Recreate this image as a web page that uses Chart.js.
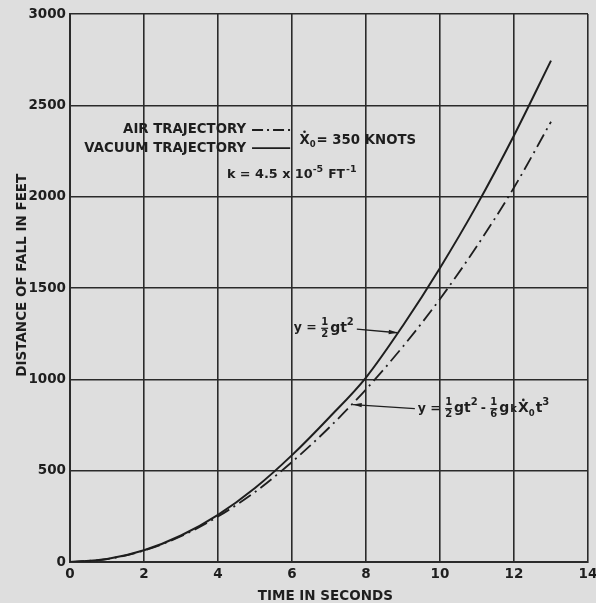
<html lang="en">
<head>
  <meta charset="UTF-8">
  <title>Distance of fall</title>
  <script src="https://cdn.jsdelivr.net/npm/chart.js"></script>
  <style>
    html, body { margin: 0; padding: 0; background: #dedede; }
    #wrap { width: 596px; height: 603px; }
  </style>
</head>
<body>
  <div id="wrap"><canvas id="viz" width="596" height="603"></canvas></div>
  <script>
    // time in seconds
    const times = [0, 1, 2, 3, 4, 5, 6, 7, 8, 9, 10, 11, 12, 13]
    // distance of fall, feet
    const vacuum = [0, 16, 64, 145, 258, 405, 585, 790, 1010, 1295, 1610, 1955, 2335, 2745]
    const air = [0, 16, 63, 141, 249, 383, 548, 735, 945, 1180, 1440, 1730, 2050, 2410]
    const xTicks = [0, 2, 4, 6, 8, 10, 12, 14]
    const yTicks = [0, 500, 1000, 1500, 2000, 2500, 3000]

    const ink = '#1e1e1e'
    const bold = (size) => 'bold ' + size + 'px "DejaVu Sans"'

    // draws "num over den" at x, returns new x
    const frac = (ctx, x, y, num, den, size) => {
      ctx.font = bold(size)
      const w = Math.max(ctx.measureText(num).width, ctx.measureText(den).width)
      ctx.textAlign = 'center'
      ctx.fillText(num, x + w / 2, y - size * 0.6)
      ctx.fillText(den, x + w / 2, y + size * 0.6)
      ctx.fillRect(x, y - 0.5, w, 1.2)
      ctx.textAlign = 'left'
      return x + w + 2
    }
    const txt = (ctx, x, y, s, size, dy) => {
      ctx.font = bold(size)
      ctx.fillText(s, x, y + (dy || 0))
      return x + ctx.measureText(s).width
    }
    const xdot = (ctx, x, y, size) => {
      ctx.font = bold(size)
      const w = ctx.measureText('X').width
      ctx.fillText('X', x, y)
      ctx.beginPath()
      ctx.arc(x + w / 2, y - size * 0.62, 1.3, 0, Math.PI * 2)
      ctx.fill()
      return x + w
    }
    const arrow = (ctx, x1, y1, x2, y2) => {
      ctx.beginPath()
      ctx.moveTo(x1, y1)
      ctx.lineTo(x2, y2)
      ctx.stroke()
      const a = Math.atan2(y2 - y1, x2 - x1)
      ctx.beginPath()
      ctx.moveTo(x2, y2)
      ctx.lineTo(x2 - 9 * Math.cos(a - 0.25), y2 - 9 * Math.sin(a - 0.25))
      ctx.lineTo(x2 - 9 * Math.cos(a + 0.25), y2 - 9 * Math.sin(a + 0.25))
      ctx.closePath()
      ctx.fill()
    }

    const notes = {
      id: 'notes',
      afterDraw (chart) {
        const { ctx } = chart
        const X = (v) => chart.scales.x.getPixelForValue(v)
        const Y = (v) => chart.scales.y.getPixelForValue(v)
        ctx.save()
        ctx.fillStyle = ink
        ctx.strokeStyle = ink
        ctx.textBaseline = 'middle'

        // axis titles
        ctx.textAlign = 'center'
        ctx.font = bold(13.5)
        ctx.fillText('TIME IN SECONDS', X(6.9), 596)
        ctx.save()
        ctx.translate(22, Y(1570))
        ctx.rotate(-Math.PI / 2)
        ctx.fillText('DISTANCE OF FALL IN FEET', 0, 0)
        ctx.restore()

        // legend block
        ctx.textAlign = 'right'
        ctx.font = bold(13.3)
        ctx.fillText('AIR TRAJECTORY', X(4.76), Y(2365))
        ctx.fillText('VACUUM TRAJECTORY', X(4.76), Y(2266))
        ctx.textAlign = 'left'
        ctx.lineWidth = 1.8
        ctx.setLineDash([11, 4, 2, 4])
        ctx.beginPath(); ctx.moveTo(X(4.92), Y(2365)); ctx.lineTo(X(5.95), Y(2365)); ctx.stroke()
        ctx.setLineDash([])
        ctx.beginPath(); ctx.moveTo(X(4.92), Y(2266)); ctx.lineTo(X(5.95), Y(2266)); ctx.stroke()

        let x = xdot(ctx, X(6.2), Y(2310), 13.3)
        ctx.font = bold(8.5); ctx.fillText('0', x, Y(2310) + 5); x += ctx.measureText('0').width + 1
        txt(ctx, x, Y(2310), '= 350 KNOTS', 13.3)

        x = txt(ctx, X(4.24), Y(2118), 'k = 4.5 x 10', 12.8)
        x = txt(ctx, x, Y(2118), '-5', 9.5, -6) + 5
        x = txt(ctx, x, Y(2118), 'FT', 12.3) + 1
        txt(ctx, x, Y(2118), '-1', 9.5, -6)

        // y = 1/2 g t^2
        const y1 = Y(1280)
        x = txt(ctx, X(6.05), y1, 'y = ', 12.5)
        x = frac(ctx, x, y1, '1', '2', 10)
        x = txt(ctx, x, y1, 'gt', 14)
        x = txt(ctx, x, y1, '2', 10, -6) + 3
        ctx.lineWidth = 1.3
        arrow(ctx, x, y1 + 1, X(8.85), Y(1255))

        // y = 1/2 g t^2 - 1/6 g k X0 t^3
        const y2 = Y(840)
        arrow(ctx, X(9.32), y2, X(7.65), Y(862))
        x = txt(ctx, X(9.4), y2, 'y = ', 12.5)
        x = frac(ctx, x, y2, '1', '2', 10)
        x = txt(ctx, x, y2, 'gt', 14)
        x = txt(ctx, x, y2, '2', 10, -6) + 3
        x = txt(ctx, x, y2, '- ', 12.5)
        x = frac(ctx, x, y2, '1', '6', 10)
        x = txt(ctx, x, y2, 'g', 14) + 1
        x = txt(ctx, x, y2, 'k', 10, 1) + 1
        x = xdot(ctx, x, y2, 14)
        x = txt(ctx, x, y2, '0', 8.5, 5) + 1
        x = txt(ctx, x, y2, 't', 14)
        txt(ctx, x, y2, '3', 10, -6)
        ctx.restore()
      }
    }

    new Chart(document.getElementById('viz'), {
      type: 'line',
      data: {
        datasets: [{
          label: 'VACUUM TRAJECTORY',
          data: times.map((t, i) => ({ x: t, y: vacuum[i] })),
          borderColor: ink,
          borderWidth: 2,
          pointRadius: 0,
          cubicInterpolationMode: 'monotone'
        }, {
          label: 'AIR TRAJECTORY',
          data: times.map((t, i) => ({ x: t, y: air[i] })),
          borderColor: ink,
          borderWidth: 1.8,
          borderDash: [14, 5, 2, 5],
          pointRadius: 0,
          cubicInterpolationMode: 'monotone'
        }]
      },
      options: {
        responsive: false,
        animation: false,
        layout: { padding: { top: 14, right: 8, left: 0, bottom: 0 } },
        plugins: { legend: { display: false }, tooltip: { enabled: false } },
        scales: {
          x: {
            type: 'linear',
            min: 0,
            max: 14,
            afterBuildTicks: (s) => { s.ticks = xTicks.map(v => ({ value: v })) },
            afterFit: (s) => { s.height = 41; s.paddingRight = 0; s.paddingLeft = 0 },
            grid: { color: '#2a2a2a', lineWidth: 1.6, drawTicks: false },
            border: { color: '#2a2a2a', width: 2 },
            ticks: { color: ink, font: { family: 'DejaVu Sans', weight: 'bold', size: 13.5 }, padding: 4, callback: (v) => String(v) }
          },
          y: {
            min: 0,
            max: 3000,
            afterBuildTicks: (s) => { s.ticks = yTicks.map(v => ({ value: v })) },
            afterFit: (s) => { s.width = 70 },
            grid: { color: '#2a2a2a', lineWidth: 1.6, drawTicks: false },
            border: { color: '#2a2a2a', width: 2 },
            ticks: { color: ink, font: { family: 'DejaVu Sans', weight: 'bold', size: 13.5 }, padding: 4, callback: (v) => String(v) }
          }
        }
      },
      plugins: [notes]
    })
  </script>
</body>
</html>
